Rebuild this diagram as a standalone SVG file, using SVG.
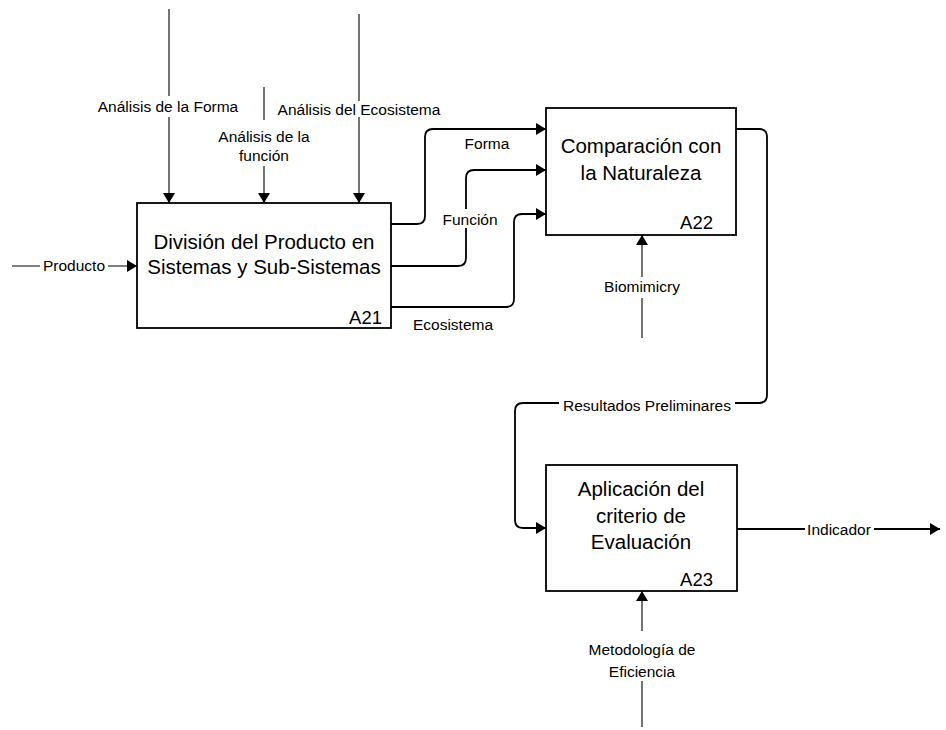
<svg xmlns="http://www.w3.org/2000/svg" width="946" height="730" viewBox="0 0 946 730">
<defs>
<marker id="arr" markerUnits="userSpaceOnUse" markerWidth="12" markerHeight="12" viewBox="0 0 10 12" refX="10" refY="6" orient="auto">
<path d="M0,0 L10,6 L0,12 Z" fill="#000"/>
</marker>
<style>
.box{fill:#fff;stroke:#000;stroke-width:1.8}
.bt{font-family:"Liberation Sans",Arial,sans-serif;font-size:20.5px;fill:#000;text-anchor:middle}
.id{font-family:"Liberation Sans",Arial,sans-serif;font-size:18.5px;fill:#000;text-anchor:end}
.lb{font-family:"Liberation Sans",Arial,sans-serif;font-size:15.5px;fill:#000;text-anchor:middle}
.c{fill:none;stroke:#000;stroke-width:1.8}
.t{fill:none;stroke:#000;stroke-width:1.1}
.bg{fill:#fff;stroke:none}
</style>
</defs>
<rect width="946" height="730" fill="#fff"/>
<g id="connectors">
<path class="t" d="M12,266 H137" marker-end="url(#arr)"/>
<path class="t" d="M169,9 V203" marker-end="url(#arr)"/>
<path class="t" d="M264,87 V203" marker-end="url(#arr)"/>
<path class="t" d="M359,14 V203" marker-end="url(#arr)"/>
<path class="c" d="M391,224 H417 Q425,224 425,216 V137 Q425,129 433,129 H546" marker-end="url(#arr)"/>
<path class="c" d="M391,266 H458 Q466,266 466,258 V178 Q466,170 474,170 H546" marker-end="url(#arr)"/>
<path class="c" d="M391,307 H506 Q514,307 514,299 V222 Q514,214 522,214 H546" marker-end="url(#arr)"/>
<path class="t" d="M642,338 V235" marker-end="url(#arr)"/>
<path class="c" d="M736,129 H759 Q767,129 767,137 V395 Q767,403 759,403 H523 Q515,403 515,411 V520 Q515,528 523,528 H546" marker-end="url(#arr)"/>
<path class="c" d="M737,529 H940" marker-end="url(#arr)"/>
<path class="t" d="M642,727 V591" marker-end="url(#arr)"/>
<g id="labels">
<rect class="bg" x="40" y="257" width="68" height="18"/>
<text class="lb" x="74" y="271">Producto</text>
<rect class="bg" x="97" y="96" width="143" height="21"/>
<text class="lb" x="168" y="111.5">Análisis de la Forma</text>
<rect class="bg" x="215" y="120" width="98" height="46"/>
<text class="lb" x="264" y="141.5">Análisis de la</text>
<text class="lb" x="264" y="161">función</text>
<rect class="bg" x="276" y="101" width="166" height="16"/>
<text class="lb" x="359" y="114.5">Análisis del Ecosistema</text>
<text class="lb" x="487" y="148.5">Forma</text>
<rect class="bg" x="441" y="209" width="58" height="19"/>
<text class="lb" x="470" y="224.5">Función</text>
<text class="lb" x="453" y="329.5">Ecosistema</text>
<rect class="bg" x="600" y="277" width="84" height="21"/>
<text class="lb" x="642" y="292">Biomimicry</text>
<rect class="bg" x="559" y="396" width="176" height="18"/>
<text class="lb" x="647" y="410.5">Resultados Preliminares</text>
<rect class="bg" x="805" y="521" width="69" height="17"/>
<text class="lb" x="839" y="535">Indicador</text>
<rect class="bg" x="580" y="631" width="124" height="50"/>
<text class="lb" x="642" y="655">Metodología de</text>
<text class="lb" x="642" y="676.5">Eficiencia</text>
</g>
</g>
<g id="A21">
<rect class="box" x="137" y="203" width="254" height="125"/>
<text class="bt" x="264" y="248.5">División del Producto en</text>
<text class="bt" x="264" y="274">Sistemas y Sub-Sistemas</text>
<text class="id" x="382" y="323.5">A21</text>
</g>
<g id="A22">
<rect class="box" x="546" y="108" width="190" height="127"/>
<text class="bt" x="641" y="153">Comparación con</text>
<text class="bt" x="641" y="180">la Naturaleza</text>
<text class="id" x="713" y="229">A22</text>
</g>
<g id="A23">
<rect class="box" x="546" y="465" width="191" height="126"/>
<text class="bt" x="641" y="496">Aplicación del</text>
<text class="bt" x="641" y="522.5">criterio de</text>
<text class="bt" x="641" y="549">Evaluación</text>
<text class="id" x="713" y="585.5">A23</text>
</g>
</svg>
